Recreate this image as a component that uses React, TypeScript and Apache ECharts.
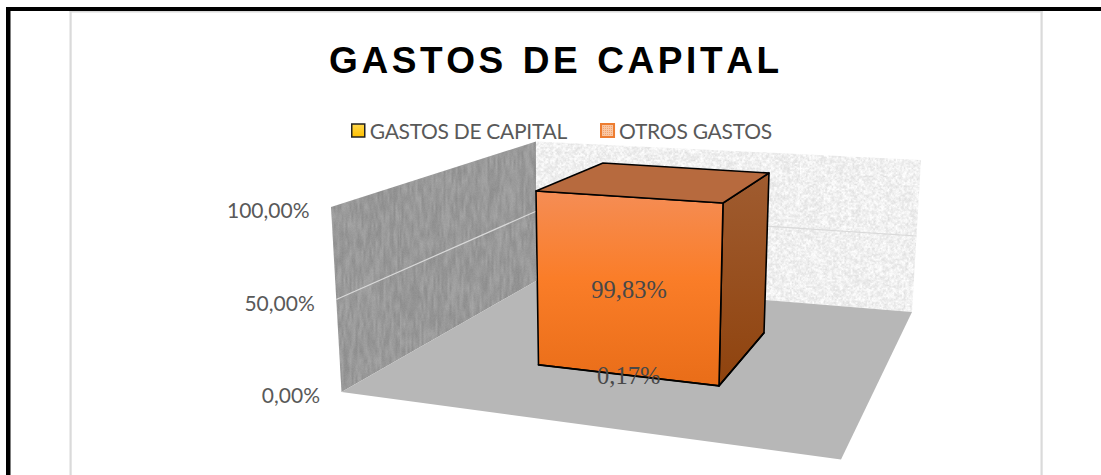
import React, { useEffect, useRef } from "react";
import * as echarts from "echarts";

// ---- data ----
const TITLE = "GASTOS DE CAPITAL";
const seriesNames = ["GASTOS DE CAPITAL", "OTROS GASTOS"];
const gastosCapital = [0.17];
const otrosGastos = [99.83];
const tickValues = [0, 50, 100];
const tickLabels = ["0,00%", "50,00%", "100,00%"];

// ---- projected box geometry (layout only) ----
type P = number[];
const lerp = (a: P, b: P, t: number): P => [a[0] + (b[0] - a[0]) * t, a[1] + (b[1] - a[1]) * t];
const WALL = {
  floorFL: [341.5, 392], floorBL: [536, 281], floorBR: [912, 312], floorFR: [841, 459.5],
  topFL: [331, 207], topBL: [536, 141.5], topBR: [921, 160],
};
const BAR = {
  baseFL: [538.5, 365], baseFR: [719, 386], baseBR: [764, 333], baseBL: [603, 320],
  topFL: [536, 191], topFR: [723, 203], topBR: [769, 173], topBL: [603, 163],
};

// deterministic noise textures for the walls
function hash(x: number, y: number) {
  const s = Math.sin(x * 127.1 + y * 311.7) * 43758.5453;
  return s - Math.floor(s);
}
function texture(size: number, paint: (x: number, y: number) => number) {
  const c = document.createElement("canvas");
  c.width = c.height = size;
  const ctx = c.getContext("2d")!;
  const img = ctx.createImageData(size, size);
  for (let y = 0; y < size; y++) {
    for (let x = 0; x < size; x++) {
      const v = paint(x, y);
      const i = (y * size + x) * 4;
      img.data[i] = img.data[i + 1] = img.data[i + 2] = v;
      img.data[i + 3] = 255;
    }
  }
  ctx.putImageData(img, 0, 0);
  return c;
}
const smooth = (x: number, y: number, sx: number, sy: number) => {
  const cx = Math.floor(x / sx);
  const cy = Math.floor(y / sy);
  const fx = x / sx - cx;
  const fy = y / sy - cy;
  const a = hash(cx, cy), b = hash(cx + 1, cy), c = hash(cx, cy + 1), d = hash(cx + 1, cy + 1);
  return (a * (1 - fx) + b * fx) * (1 - fy) + (c * (1 - fx) + d * fx) * fy;
};

export default function App() {
  const ref = useRef<HTMLDivElement>(null);
  useEffect(() => {
    document.body.style.margin = "0";
    const chart = echarts.init(ref.current!, undefined, { renderer: "svg" });

    const S = 400;
    const sideTex = texture(S, (x, y) =>
      153 + (smooth(x, y, 2, 9) - 0.5) * 22 + (hash(x, y) - 0.5) * 6
    );
    const backTex = texture(S, (x, y) => {
      const v = smooth(x, y, 1.6, 1.6);
      return 240 + (v - 0.5) * 30 + (hash(y, x) - 0.5) * 8;
    });

    const frac = (api: any, v: number) => {
      const y0 = api.coord([0, tickValues[0]])[1];
      const y1 = api.coord([0, tickValues[tickValues.length - 1]])[1];
      return (api.coord([0, v])[1] - y0) / (y1 - y0);
    };

    const poly = (points: P[], style: any) => ({ type: "polygon", shape: { points }, style });

    const renderWalls = () => ({
      type: "group",
      children: [
        poly([WALL.topFL, WALL.topBL, WALL.floorBL, WALL.floorFL], { fill: { image: sideTex, repeat: "repeat" } }),
        poly([WALL.topBL, WALL.topBR, WALL.floorBR, WALL.floorBL], { fill: { image: backTex, repeat: "repeat" } }),
        poly([WALL.floorFL, WALL.floorBL, WALL.floorBR, WALL.floorFR], { fill: "#B7B7B7" }),
      ],
    });

    const renderTick = (params: any, api: any) => {
      const v = api.value(1);
      const t = frac(api, v);
      const a = lerp(WALL.floorFL, WALL.topFL, t);
      const b = lerp(WALL.floorBL, WALL.topBL, t);
      const c = lerp(WALL.floorBR, WALL.topBR, t);
      const children: any[] = [
        {
          type: "text",
          style: {
            text: tickLabels[params.dataIndex],
            x: a[0] - 21.5,
            y: a[1] + 2.5,
            align: "right",
            verticalAlign: "middle",
            fill: "#595959",
            font: "21px Lato",
          },
        },
      ];
      if (v > tickValues[0] && v < tickValues[tickValues.length - 1]) {
        children.unshift(
          { type: "polyline", shape: { points: [a, b, c] }, style: { stroke: "#D9D9D9", lineWidth: 1.2, fill: "none" } }
        );
      }
      return { type: "group", children };
    };

    const barFill = new echarts.graphic.LinearGradient(0, 0, 0, 1, [
      { offset: 0, color: "#F58D55" },
      { offset: 0.45, color: "#FA7D28" },
      { offset: 1, color: "#E96D18" },
    ]);
    const sideFill = new echarts.graphic.LinearGradient(0, 0, 0, 1, [
      { offset: 0, color: "#A05C30" },
      { offset: 1, color: "#8F430E" },
    ]);
    const edge = { stroke: "#000", lineWidth: 1.6, lineJoin: "round" };

    const renderBar = (fills: { front: any; side: any; top: any }, base: number, showTop: boolean, labelDy: number) =>
      (params: any, api: any) => {
        const v = api.value(1);
        const t0 = frac(api, base);
        const t1 = frac(api, base + v);
        const fl0 = lerp(BAR.baseFL, BAR.topFL, t0);
        const fr0 = lerp(BAR.baseFR, BAR.topFR, t0);
        const br0 = lerp(BAR.baseBR, BAR.topBR, t0);
        const fl1 = lerp(BAR.baseFL, BAR.topFL, t1);
        const fr1 = lerp(BAR.baseFR, BAR.topFR, t1);
        const br1 = lerp(BAR.baseBR, BAR.topBR, t1);
        const bl1 = lerp(BAR.baseBL, BAR.topBL, t1);
        const cx = (fl0[0] + fr0[0] + fl1[0] + fr1[0]) / 4;
        const cy = (fl0[1] + fr0[1] + fl1[1] + fr1[1]) / 4;
        const children: any[] = [
          poly([fr0, br0, br1, fr1], { fill: fills.side, ...edge }),
          poly([fl0, fr0, fr1, fl1], { fill: fills.front, ...edge }),
        ];
        if (showTop) children.push(poly([fl1, fr1, br1, bl1], { fill: fills.top, ...edge }));
        children.push({
          type: "text",
          z2: 10,
          style: {
            text: String(v.toFixed(2)).replace(".", ",") + "%",
            x: cx,
            y: cy + labelDy,
            align: "center",
            verticalAlign: "middle",
            fill: "#484848",
            font: "24.5px 'Liberation Serif'",
          },
        });
        return { type: "group", children };
      };

    chart.setOption({
      animation: false,
      backgroundColor: "#fff",
      title: {
        text: TITLE,
        left: 324,
        top: 37,
        textStyle: { fontFamily: "Liberation Sans", fontWeight: "bold", fontSize: 37, color: "#000" },
      },
      legend: {
        left: 346,
        top: 115,
        icon: "rect",
        itemWidth: 13,
        itemHeight: 13,
        itemGap: 28,
        textStyle: { fontFamily: "Lato", fontSize: 21, color: "#595959", padding: [0, 0, 0, 0] },
        data: [
          {
            name: seriesNames[0],
            itemStyle: {
              color: new echarts.graphic.LinearGradient(0, 0, 0, 1, [
                { offset: 0, color: "#FFD84D" },
                { offset: 1, color: "#FFC000" },
              ]),
              borderColor: "#222",
              borderWidth: 1.5,
            },
          },
          {
            name: seriesNames[1],
            itemStyle: {
              color: "#F9C7A4",
              borderColor: "#ED7D31",
              borderWidth: 2,
              decal: { symbol: "rect", symbolSize: 1, dashArrayX: [1, 1], dashArrayY: [1, 1], color: "#F2A36E" },
            },
          },
        ],
      },
      grid: { left: 341, right: 150, top: 207, bottom: 475 - 392 },
      xAxis: { type: "category", data: [""], show: false },
      yAxis: { type: "value", min: 0, max: 100, interval: 50, show: false },
      graphic: [
        { type: "rect", z: -10, silent: true, shape: { x: 69.5, y: 11, width: 2.2, height: 464 }, style: { fill: "#DADADA" } },
        { type: "rect", z: -10, silent: true, shape: { x: 1040.5, y: 11, width: 2.2, height: 464 }, style: { fill: "#DADADA" } },
        { type: "rect", z: -10, silent: true, shape: { x: 69.5, y: 11, width: 973, height: 1.6 }, style: { fill: "#DADADA" } },
        { type: "rect", z: 20, silent: true, shape: { x: 6, y: 7, width: 1095, height: 4 }, style: { fill: "#000" } },
        { type: "rect", z: 20, silent: true, shape: { x: 6, y: 7, width: 4.5, height: 468 }, style: { fill: "#000" } },
      ],
      series: [
        { type: "custom", name: "__walls", silent: true, z: 1, data: [[0, 0]], renderItem: renderWalls },
        { type: "custom", name: "__ticks", silent: true, z: 2, data: tickValues.map((v) => [0, v]), renderItem: renderTick },
        {
          type: "custom",
          name: seriesNames[1],
          silent: true,
          z: 4,
          data: otrosGastos.map((v) => [0, v]),
          renderItem: renderBar({ front: barFill, side: sideFill, top: "#B76A3E" }, gastosCapital[0], true, 3),
        },
        {
          type: "custom",
          name: seriesNames[0],
          silent: true,
          z: 5,
          data: gastosCapital.map((v) => [0, v]),
          renderItem: renderBar({ front: "#FFC000", side: "#A88000", top: "#C99A00" }, 0, false, 0.5),
        },
      ],
    });

    const spaceTexts = () => {
      ref.current?.querySelectorAll("text").forEach((t) => {
        const s = t as SVGTextElement;
        if (t.textContent === TITLE && /bold/.test(t.getAttribute("style") || "")) {
          t.setAttribute("letter-spacing", "3.6");
          t.setAttribute("word-spacing", "2");
          s.style.fontKerning = "none";
        } else if (t.textContent === seriesNames[0]) {
          t.setAttribute("letter-spacing", "-0.3");
        } else if (t.textContent === seriesNames[1]) {
          t.setAttribute("letter-spacing", "-0.25");
        }
      });
    };
    spaceTexts();
    chart.on("finished", spaceTexts);
    return () => chart.dispose();
  }, []);
  return <div ref={ref} style={{ position: "absolute", left: 0, top: 0, width: 1101, height: 475, overflow: "hidden" }} />;
}
